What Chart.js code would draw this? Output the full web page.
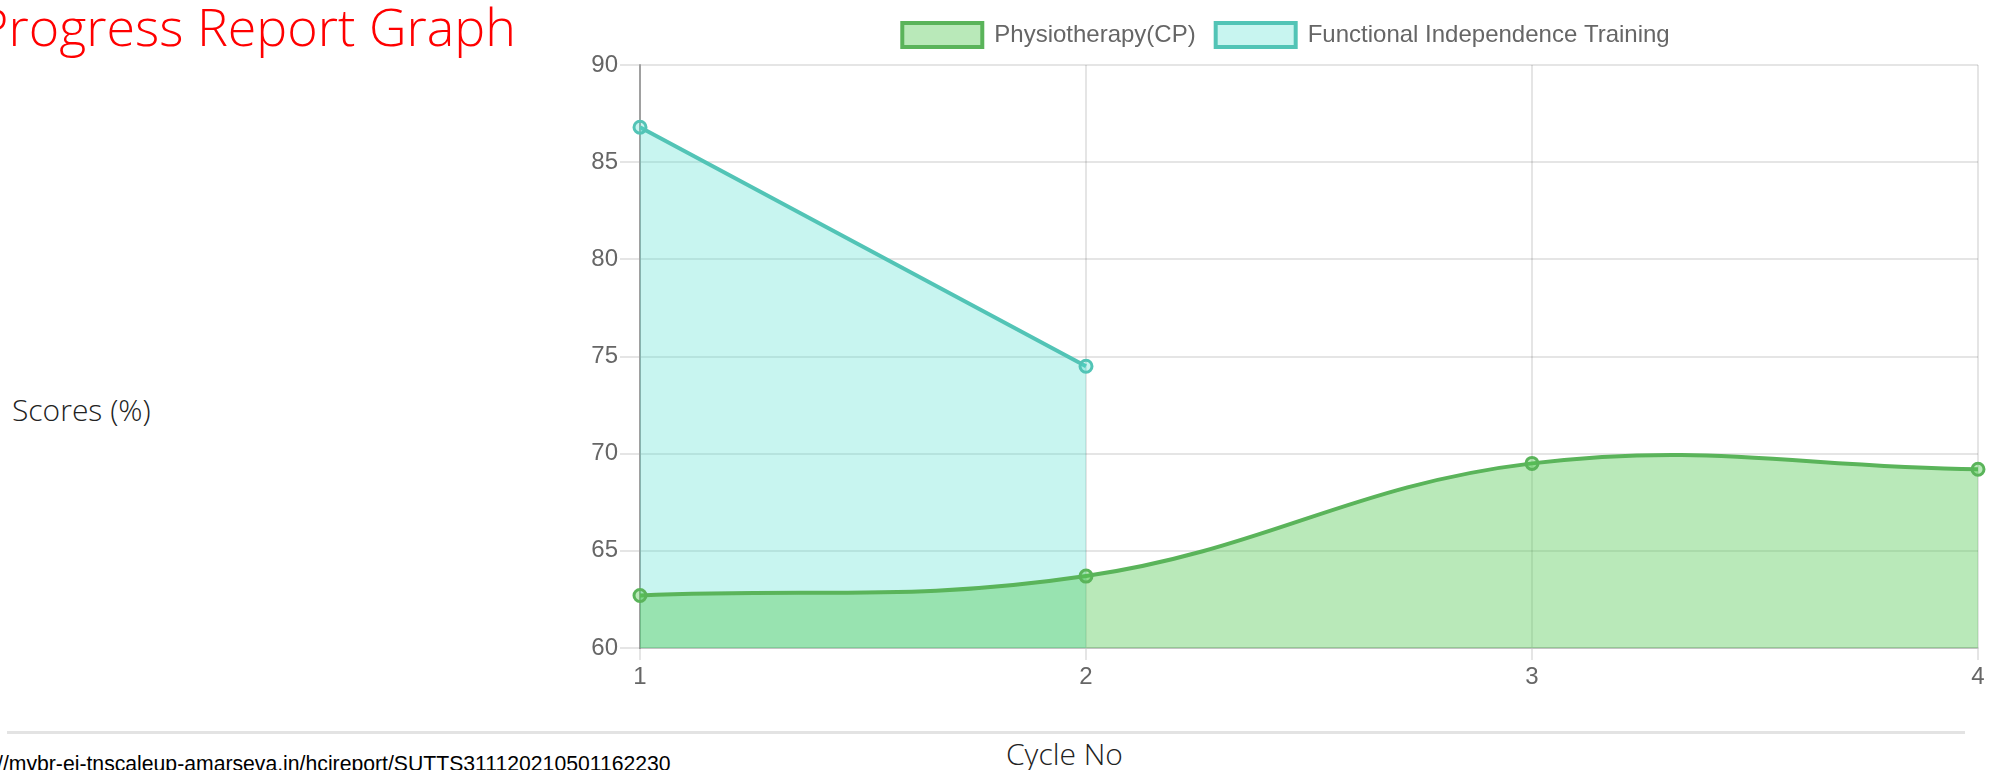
<!DOCTYPE html>
<html>
<head>
<meta charset="utf-8">
<script src="https://cdn.jsdelivr.net/npm/chart.js@4.4.1/dist/chart.umd.min.js"></script>
<style>
  html, body { margin: 0; padding: 0; background: #fff; width: 1999px; height: 770px; overflow: hidden; position: relative; }
  #title { position: absolute; right: 1483px; top: 0px; font-family: "Open Sans", sans-serif; font-weight: 300; font-size: 52px; line-height: 52px; color: #ff0000; white-space: nowrap; }
  #ylab { position: absolute; left: 12px; top: 395px; font-family: "Open Sans", sans-serif; font-weight: 300; font-size: 30px; line-height: 30px; color: #222; white-space: nowrap; }
  #xlab { position: absolute; left: 1006px; top: 739px; font-family: "Open Sans", sans-serif; font-weight: 300; font-size: 30px; line-height: 30px; color: #222; white-space: nowrap; }
  #rule { position: absolute; left: 7px; top: 731px; width: 1958px; height: 3px; background: #e3e3e3; }
  #url { position: absolute; left: -3px; top: 753px; font-family: "Liberation Sans", Arial, sans-serif; font-size: 21.2px; line-height: 21px; color: #000; white-space: nowrap; }
  #wrap { position: absolute; left: 560px; top: 0px; width: 1439px; height: 700px; }
</style>
</head>
<body>
<div id="title">Progress Report Graph</div>
<div id="ylab">Scores (%)</div>
<div id="wrap"><canvas id="c" width="1439" height="700"></canvas></div>
<div id="rule"></div>
<div id="xlab">Cycle No</div>
<div id="url">//mybr-ei-tnscaleup-amarseva.in/hcireport/SUTTS311120210501162230</div>
<script>
// ---- data ----
const cycles = ['1', '2', '3', '4'];
const physioScores = [62.7, 63.7, 69.5, 69.2];
const fitScores = [86.8, 74.5];
const seriesNames = ['Physiotherapy(CP)', 'Functional Independence Training'];
const yMin = 60;
const yMax = 90;
const yStep = 5;

const tickFont = { family: "'Liberation Sans', Arial, sans-serif", size: 24 };

const legendPlacement = {
  id: 'legendPlacement',
  beforeInit(chart) {
    const lg = chart.legend;
    if (!lg) return;
    const orig = lg.fit;
    lg.fit = function () { orig.call(this); this.height = 65; };
  },
  afterLayout(chart) {
    const lg = chart.legend;
    if (!lg) return;
    lg.left += 17; lg.right += 17;
    lg.top += 3; lg.bottom += 3;
  }
};

new Chart(document.getElementById('c'), {
  type: 'line',
  data: {
    labels: cycles,
    datasets: [
      {
        label: seriesNames[0],
        data: physioScores,
        borderColor: 'rgb(90,180,90)',
        backgroundColor: 'rgba(80,200,80,0.4)',
        pointBackgroundColor: 'rgba(80,200,80,0.4)',
        pointBorderColor: 'rgb(90,180,90)',
        borderWidth: 4,
        pointRadius: 6,
        pointBorderWidth: 3,
        tension: 0.4,
        fill: 'start'
      },
      {
        label: seriesNames[1],
        data: fitScores,
        borderColor: 'rgb(82,196,182)',
        backgroundColor: 'rgba(72,222,205,0.3)',
        pointBackgroundColor: 'rgba(72,222,205,0.3)',
        pointBorderColor: 'rgb(82,196,182)',
        borderWidth: 4,
        pointRadius: 6,
        pointBorderWidth: 3,
        tension: 0.4,
        fill: 'start'
      }
    ]
  },
  options: {
    responsive: false,
    animation: false,
    devicePixelRatio: 1,
    layout: { padding: { top: 0, right: 21, bottom: 0, left: 0 } },
    plugins: {
      legend: {
        position: 'top',
        labels: { boxWidth: 80, boxHeight: 24, padding: 20, color: '#666', font: tickFont }
      },
      tooltip: { enabled: false }
    },
    scales: {
      x: {
        afterFit(scale) { scale.height = 52; },
        grid: { color: 'rgba(0,0,0,0.1)', lineWidth: 2, tickLength: 12 },
        border: { display: true, color: 'rgba(0,0,0,0.15)', width: 2 },
        ticks: { color: '#666', font: tickFont, padding: 3, maxRotation: 0 }
      },
      y: {
        min: yMin,
        max: yMax,
        afterFit(scale) { scale.width = 80; },
        grid: { color: 'rgba(0,0,0,0.1)', lineWidth: 2, tickLength: 20 },
        border: { display: true, color: 'rgba(0,0,0,0.3)', width: 2 },
        ticks: { stepSize: yStep, color: '#666', font: tickFont, padding: 2 }
      }
    }
  },
  plugins: [legendPlacement]
});
</script>
</body>
</html>
